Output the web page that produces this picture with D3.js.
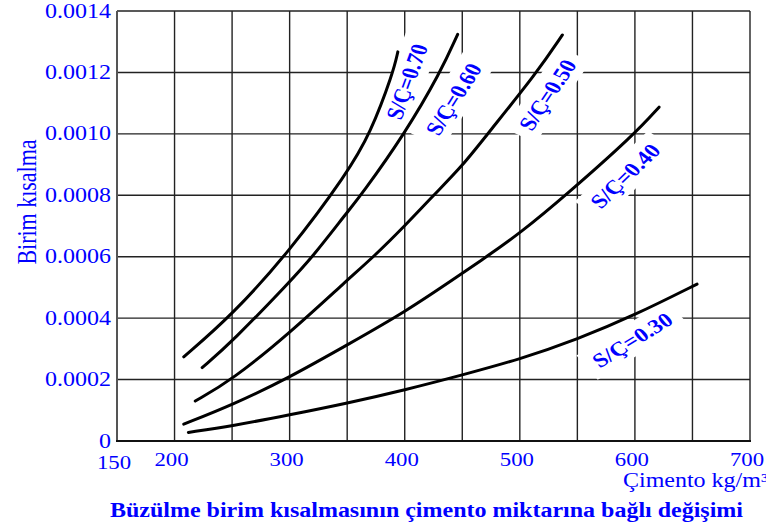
<!DOCTYPE html>
<html>
<head>
<meta charset="utf-8">
<script src="https://cdnjs.cloudflare.com/ajax/libs/d3/7.8.5/d3.min.js"></script>
<style>
  body { margin: 0; background: #fff; }
  svg { display: block; }
</style>
</head>
<body>
<div id="chart"></div>
<script>
// tick values
var xTickValues = [150, 200, 300, 400, 500, 600, 700];
var xGridValues = [200, 250, 300, 350, 400, 450, 500, 550, 600, 650];
var yTickValues = [0, 0.0002, 0.0004, 0.0006, 0.0008, 0.0010, 0.0012, 0.0014];
var yTickLabels = ["0", "0.0002", "0.0004", "0.0006", "0.0008", "0.0010", "0.0012", "0.0014"];

// curves (cimento kg/m3 -> birim kisalma)
var cimento70 = [208, 250, 300, 350, 370, 390, 394];
var kisalma70 = [0.000274, 0.00041, 0.000618, 0.000872, 0.001, 0.0012, 0.001267];
var cimento60 = [224, 250, 300, 320, 350, 362, 400, 431, 446];
var kisalma60 = [0.000239, 0.000323, 0.000518, 0.0006, 0.000745, 0.0008, 0.001, 0.0012, 0.001324];
var cimento50 = [218, 250, 300, 350, 373, 400, 425, 450, 472, 515, 537];
var kisalma50 = [0.00013, 0.000199, 0.000351, 0.000524, 0.0006, 0.0007, 0.0008, 0.000895, 0.001, 0.0012, 0.001322];
var cimento40 = [208, 250, 300, 350, 400, 450, 471, 500, 540, 600, 621];
var kisalma40 = [0.000055, 0.000117, 0.000207, 0.000313, 0.000419, 0.000546, 0.0006, 0.000676, 0.0008, 0.001, 0.001087];
var cimento30 = [212, 250, 300, 350, 400, 450, 500, 550, 600, 654];
var kisalma30 = [0.000028, 0.000049, 0.000085, 0.000123, 0.000166, 0.000215, 0.000266, 0.000331, 0.00041, 0.000511];

var seriesX = [cimento70, cimento60, cimento50, cimento40, cimento30];
var seriesY = [kisalma70, kisalma60, kisalma50, kisalma40, kisalma30];

// curve labels
var labelText = ["S/Ç=0.70", "S/Ç=0.60", "S/Ç=0.50", "S/Ç=0.40", "S/Ç=0.30"];
var labelX = [401.7, 442.2, 523.9, 591.4, 597.7];
var labelY = [0.00117, 0.001113, 0.001127, 0.000863, 0.000329];
var labelAngle = [73, 62, 60.7, 49.2, 36.3];

var blue = "#0000ff";
var stretch = "scale(1.2,1)";   // text in the picture is wider than tall

var svg = d3.select("#chart")
    .append("svg")
    .attr("width", 766)
    .attr("height", 525);

var x = d3.scaleLinear()
    .domain([150, 700])
    .range([117, 750]);

var y = d3.scaleLinear()
    .domain([0, 0.0014])
    .range([441, 11]);

var gGrid = svg.append("g");
var gBack = svg.append("g");
var gCurves = svg.append("g");
var gText = svg.append("g");

// grid
gGrid.selectAll("line.vx")
    .data(xGridValues)
    .enter()
    .append("line")
    .attr("x1", function (d) { return x(d); })
    .attr("x2", function (d) { return x(d); })
    .attr("y1", y(0))
    .attr("y2", y(0.0014))
    .attr("stroke", "#222")
    .attr("stroke-width", 1.4);

gGrid.selectAll("line.hy")
    .data(yTickValues.slice(1))
    .enter()
    .append("line")
    .attr("x1", x(150))
    .attr("x2", x(700))
    .attr("y1", function (d) { return y(d); })
    .attr("y2", function (d) { return y(d); })
    .attr("stroke", "#222")
    .attr("stroke-width", 1.4);

// frame / axes
gGrid.append("line")
    .attr("x1", x(150)).attr("x2", x(150))
    .attr("y1", y(0)).attr("y2", y(0.0014))
    .attr("stroke", "#555").attr("stroke-width", 2);
gGrid.append("line")
    .attr("x1", x(700)).attr("x2", x(700))
    .attr("y1", y(0)).attr("y2", y(0.0014))
    .attr("stroke", "#222").attr("stroke-width", 1.4);
gGrid.append("line")
    .attr("x1", x(150) - 1).attr("x2", x(700) + 1)
    .attr("y1", y(0)).attr("y2", y(0))
    .attr("stroke", "#111").attr("stroke-width", 2);

// curves
var line = d3.line()
    .x(function (d) { return x(d[0]); })
    .y(function (d) { return y(d[1]); })
    .curve(d3.curveBasis);

seriesX.forEach(function (xs, i) {
    var pts = xs.map(function (v, j) { return [v, seriesY[i][j]]; });
    gCurves.append("path")
        .datum(pts)
        .attr("fill", "none")
        .attr("stroke", "#000")
        .attr("stroke-width", 3)
        .attr("stroke-linecap", "round")
        .attr("d", line);
});

// curve labels with white boxes breaking the grid
labelText.forEach(function (t, i) {
    var tr = "translate(" + x(labelX[i]) + "," + y(labelY[i]) + ") " + stretch + " rotate(" + (-labelAngle[i]) + ")";
    var txt = gText.append("text")
        .attr("transform", tr)
        .attr("text-anchor", "middle")
        .attr("dy", "0.35em")
        .style("font-family", "'Liberation Serif', 'Times New Roman', serif")
        .style("font-weight", "bold")
        .style("font-size", "20px")
        .style("fill", blue)
        .text(t);
    var w = txt.node().getComputedTextLength();
    gBack.append("rect")
        .attr("transform", tr)
        .attr("x", -w / 2 - 8)
        .attr("y", -15)
        .attr("width", w + 16)
        .attr("height", 30)
        .attr("fill", "#fff");
});

// y tick labels
gText.selectAll("text.yt")
    .data(yTickValues)
    .enter()
    .append("text")
    .attr("transform", function (d) { return "translate(111," + y(d) + ") " + stretch; })
    .attr("text-anchor", "end")
    .attr("dy", "0.33em")
    .style("font-family", "'Liberation Serif', 'Times New Roman', serif")
    .style("font-size", "20px")
    .style("fill", blue)
    .text(function (d, i) { return yTickLabels[i]; });

// x tick labels
gText.selectAll("text.xt")
    .data(xTickValues)
    .enter()
    .append("text")
    .attr("transform", function (d) { return "translate(" + (x(d) - 3) + "," + (d === 150 ? 469 : 466) + ") " + stretch; })
    .attr("text-anchor", "middle")
    .style("font-family", "'Liberation Serif', 'Times New Roman', serif")
    .style("font-size", "19px")
    .style("fill", blue)
    .text(function (d) { return d; });

// axis titles
gText.append("text")
    .attr("transform", "translate(36,202) " + stretch + " rotate(-90)")
    .attr("text-anchor", "middle")
    .style("font-family", "'Liberation Serif', 'Times New Roman', serif")
    .style("font-size", "22px")
    .style("fill", blue)
    .text("Birim kısalma");

gText.append("text")
    .attr("transform", "translate(623,487) " + stretch)
    .style("font-family", "'Liberation Serif', 'Times New Roman', serif")
    .style("font-size", "20px")
    .style("fill", blue)
    .text("Çimento kg/m³");

gText.append("text")
    .attr("transform", "translate(110,517) " + stretch)
    .style("font-family", "'Liberation Serif', 'Times New Roman', serif")
    .style("font-weight", "bold")
    .style("font-size", "20px")
    .style("fill", blue)
    .text("Büzülme birim kısalmasının çimento miktarına bağlı değişimi");
</script>
</body>
</html>
